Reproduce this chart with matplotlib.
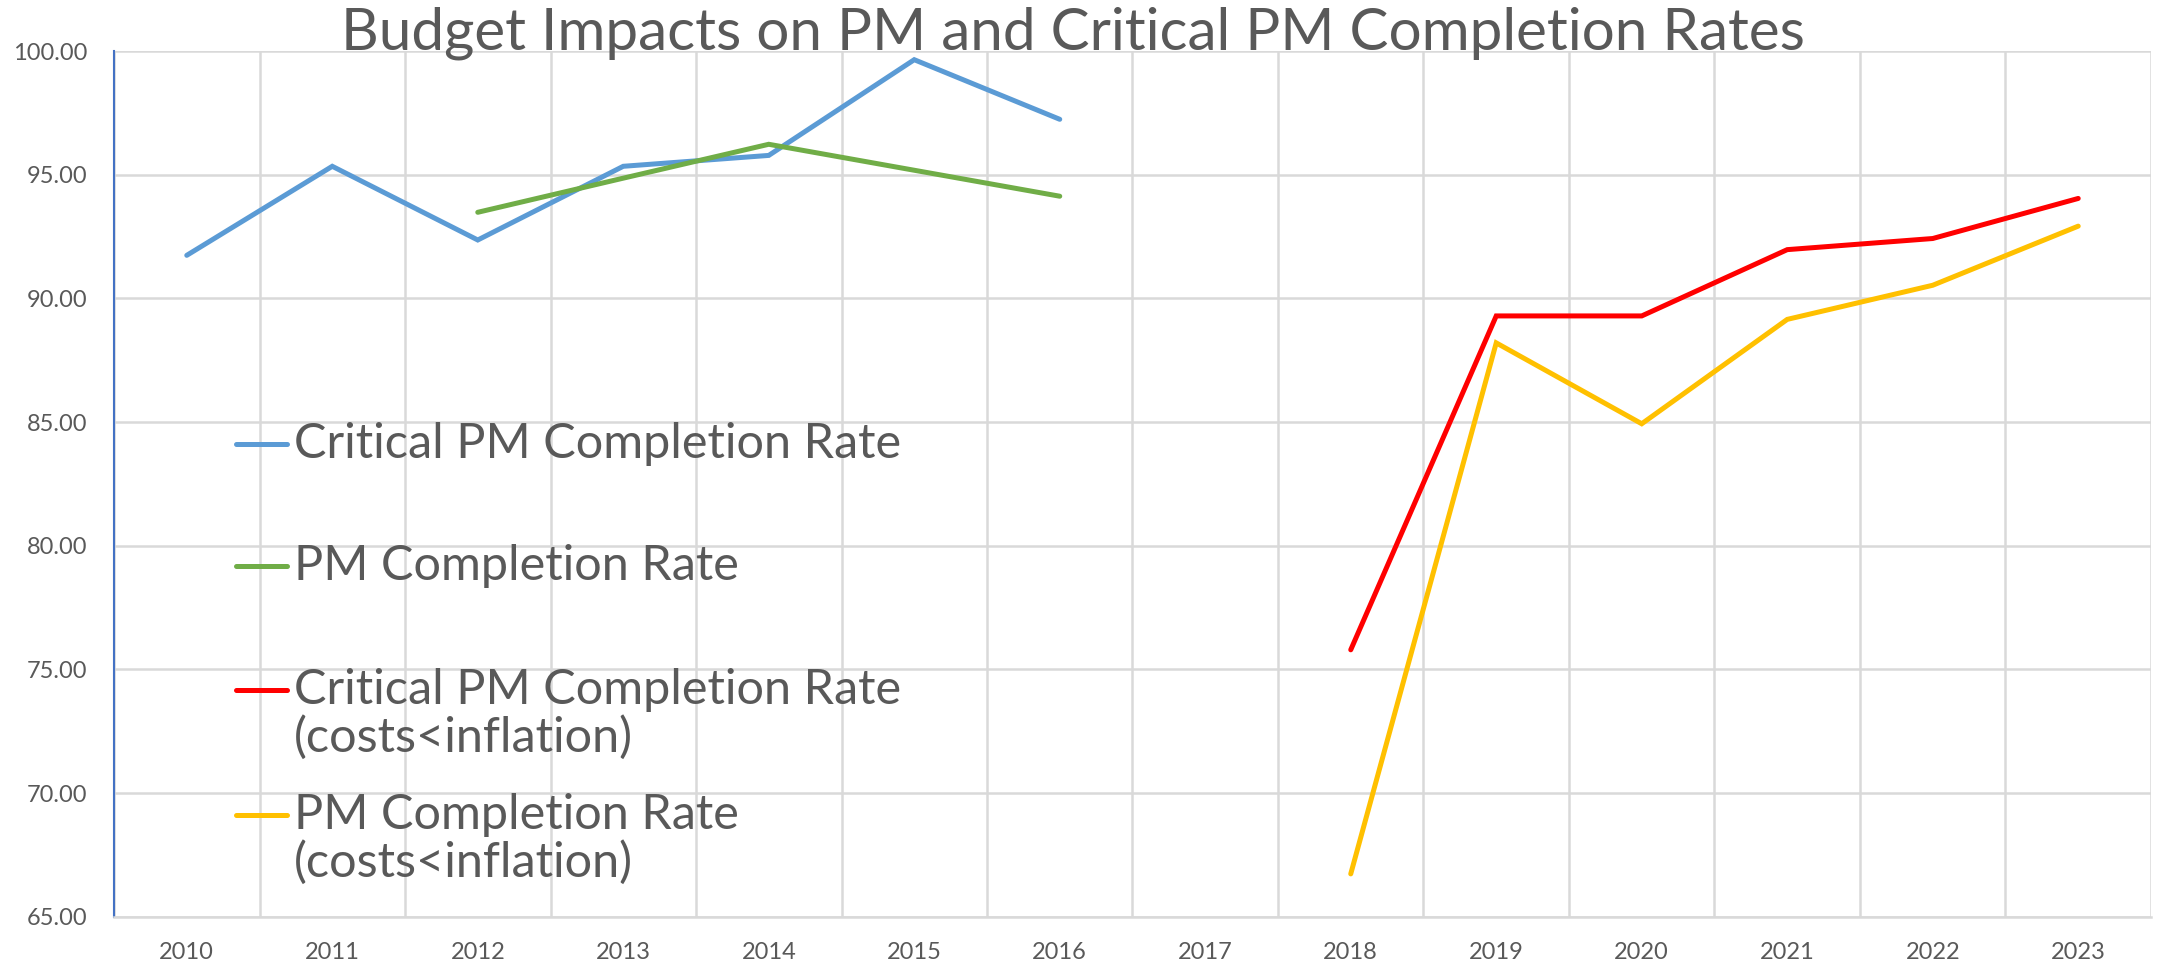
import numpy as np
import matplotlib
matplotlib.use("Agg")
import matplotlib.pyplot as plt

plt.rcParams['font.family'] = ['Lato', 'DejaVu Sans']

years = ['2010', '2011', '2012', '2013', '2014', '2015', '2016',
         '2017', '2018', '2019', '2020', '2021', '2022', '2023']
nan = np.nan
critical_pm = [91.74, 95.34, 92.36, 95.34, 95.78, 99.65, 97.24,
               nan, nan, nan, nan, nan, nan, nan]
pm_rate = [nan, nan, 93.48, 94.86, 96.23, 95.18, 94.13,
           nan, nan, nan, nan, nan, nan, nan]
critical_pm_infl = [nan, nan, nan, nan, nan, nan, nan,
                    nan, 75.79, 89.29, 89.29, 91.97, 92.42, 94.04]
pm_rate_infl = [nan, nan, nan, nan, nan, nan, nan,
                nan, 66.73, 88.2, 84.93, 89.15, 90.53, 92.92]

series = [critical_pm, pm_rate, critical_pm_infl, pm_rate_infl]
labels = ['Critical PM Completion Rate', 'PM Completion Rate',
          'Critical PM Completion Rate\n(costs<inflation)',
          'PM Completion Rate\n(costs<inflation)']
colors = ['#5B9BD5', '#70AD47', '#FF0000', '#FFC000']

txt = '#595959'
grid = '#D9D9D9'

fig = plt.figure(figsize=(21.76, 9.63), dpi=100)
ax = fig.add_axes([0.0524, 0.0481, 0.9361, 0.8989])

x = np.arange(len(years))
for vals, c in zip(series, colors):
    ax.plot(x, vals, color=c, lw=3.6, solid_capstyle='round',
            solid_joinstyle='miter', zorder=3)

ax.set_xlim(-0.5, len(years) - 0.5)
ax.set_ylim(65, 100)
ax.set_yticks(np.arange(65, 100.1, 5))
ax.set_yticklabels(['%.2f' % v for v in np.arange(65, 100.1, 5)])
ax.set_xticks(x)
ax.set_xticklabels(years)
ax.set_xticks(np.arange(-0.5, len(years)), minor=True)
ax.grid(True, which='minor', axis='x', color=grid, lw=1.8, zorder=0)
ax.grid(True, which='major', axis='y', color=grid, lw=1.8, zorder=0)
ax.tick_params(which='both', length=0, labelcolor=txt, labelsize=17)
ax.tick_params(axis='y', pad=19)
ax.tick_params(axis='x', pad=18)
for s in ['top', 'right']:
    ax.spines[s].set_visible(False)
ax.spines['bottom'].set_color(grid)
ax.spines['bottom'].set_linewidth(1.8)
ax.spines['left'].set_color('#4472C4')
ax.spines['left'].set_linewidth(1.5)

# legend drawn like the Excel one: handle next to the first line of each entry
leg_y = [0.546, 0.405, 0.262, 0.118]
pitch = 0.0554
for lab, c, yy in zip(labels, colors, leg_y):
    ax.plot([0.0599, 0.0849], [yy, yy], color=c, lw=3.6, transform=ax.transAxes,
            solid_capstyle='round', clip_on=False, zorder=4)
    for i, line in enumerate(lab.split('\n')):
        ax.text(0.0884, yy - i * pitch, line, transform=ax.transAxes,
                fontsize=35, color=txt, va='center', ha='left', zorder=4)

fig.text(0.493, 0.949, 'Budget Impacts on PM and Critical PM Completion Rates',
         ha='center', va='baseline', fontsize=42, color=txt)

fig.savefig('out.png', dpi=100)
